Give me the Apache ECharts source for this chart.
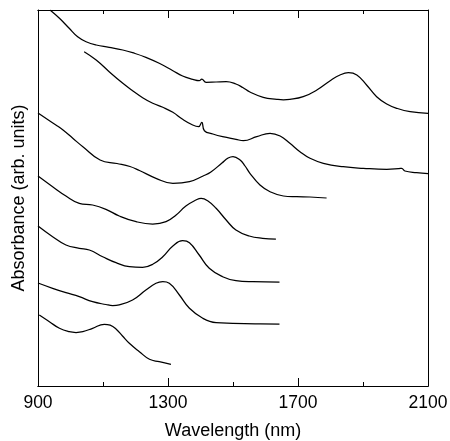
<!DOCTYPE html>
<html>
<head>
<meta charset="utf-8">
<script src="https://cdn.jsdelivr.net/npm/echarts@6/dist/echarts.min.js"></script>
<style>
html,body{margin:0;padding:0;background:#fff;}
#chart{width:450px;height:441px;}
</style>
</head>
<body>
<div id="chart"></div>
<script>
// ---- data (wavelength in nm, absorbance in arbitrary units, curves offset vertically) ----
var majorTicks = [900, 1300, 1700, 2100];
var minorTicks = [1100, 1500, 1900];

var wl1 = [937, 966, 996, 1022, 1048, 1079, 1119, 1161, 1191, 1232, 1273, 1315, 1345, 1376, 1396, 1404, 1417, 1448, 1479, 1509, 1530, 1552, 1593, 1635, 1655, 1675, 1716, 1758, 1799, 1829, 1855, 1881, 1911, 1942, 1973, 2004, 2045, 2100];
var ab1 = [3.76, 3.677, 3.577, 3.493, 3.443, 3.41, 3.387, 3.36, 3.333, 3.287, 3.227, 3.153, 3.10, 3.067, 3.053, 3.07, 3.037, 3.04, 3.043, 3.02, 2.985, 2.94, 2.887, 2.867, 2.862, 2.866, 2.893, 2.96, 3.053, 3.11, 3.133, 3.11, 3.01, 2.893, 2.82, 2.777, 2.743, 2.727];

var wl2 = [1042, 1079, 1119, 1161, 1191, 1222, 1253, 1284, 1315, 1345, 1376, 1394, 1404, 1412, 1438, 1468, 1509, 1532, 1573, 1614, 1645, 1675, 1706, 1737, 1778, 1839, 1901, 1973, 2009, 2019, 2029, 2065, 2100];
var ab2 = [3.343, 3.26, 3.143, 3.027, 2.953, 2.883, 2.827, 2.787, 2.737, 2.667, 2.61, 2.593, 2.637, 2.553, 2.52, 2.493, 2.467, 2.453, 2.493, 2.527, 2.50, 2.427, 2.343, 2.277, 2.227, 2.193, 2.177, 2.167, 2.173, 2.177, 2.15, 2.133, 2.123];

var wl3 = [900, 955, 977, 1007, 1039, 1091, 1143, 1183, 1212, 1263, 1315, 1366, 1408, 1432, 1466, 1485, 1500, 1522, 1537, 1552, 1583, 1614, 1655, 1696, 1737, 1788];
var ab3 = [2.73, 2.61, 2.56, 2.477, 2.39, 2.26, 2.225, 2.195, 2.155, 2.077, 2.027, 2.043, 2.10, 2.14, 2.23, 2.28, 2.295, 2.26, 2.20, 2.127, 2.01, 1.943, 1.90, 1.893, 1.89, 1.88];

var wl4 = [900, 945, 986, 1027, 1068, 1109, 1150, 1202, 1253, 1294, 1325, 1355, 1386, 1402, 1422, 1448, 1479, 1509, 1550, 1591, 1632];
var ab4 = [2.10, 1.993, 1.90, 1.827, 1.81, 1.767, 1.70, 1.643, 1.62, 1.643, 1.71, 1.80, 1.86, 1.877, 1.853, 1.777, 1.66, 1.56, 1.50, 1.477, 1.47];

var wl5 = [900, 945, 986, 1027, 1058, 1099, 1140, 1181, 1222, 1253, 1284, 1315, 1345, 1366, 1396, 1427, 1468, 1509, 1561, 1643];
var ab5 = [1.60, 1.493, 1.41, 1.377, 1.36, 1.293, 1.233, 1.193, 1.187, 1.217, 1.293, 1.40, 1.453, 1.433, 1.31, 1.177, 1.093, 1.053, 1.043, 1.04];

var wl6 = [900, 945, 986, 1027, 1068, 1109, 1130, 1150, 1191, 1232, 1263, 1284, 1304, 1335, 1366, 1407, 1448, 1499, 1568, 1643];
var ab6 = [1.03, 0.977, 0.933, 0.893, 0.843, 0.815, 0.805, 0.812, 0.86, 0.96, 1.027, 1.043, 1.027, 0.91, 0.777, 0.677, 0.633, 0.627, 0.622, 0.62];

var wl7 = [904, 935, 966, 996, 1017, 1038, 1068, 1104, 1122, 1140, 1160, 1181, 1212, 1243, 1273, 1309];
var ab7 = [0.71, 0.643, 0.577, 0.543, 0.535, 0.543, 0.577, 0.617, 0.608, 0.57, 0.50, 0.427, 0.343, 0.267, 0.243, 0.217];

var curves = [[wl1, ab1], [wl2, ab2], [wl3, ab3], [wl4, ab4], [wl5, ab5], [wl6, ab6], [wl7, ab7]];

// ---- chart ----
var font = '"Liberation Sans", Arial, sans-serif';
var chart = echarts.init(document.getElementById('chart'), null, {renderer: 'canvas'});

function xAx(pos, ticks, len, labels, name) {
  var a = {
    type: 'value', position: pos, min: 900, max: 2100,
    axisLine: {show: true, onZero: false, lineStyle: {color: '#000', width: 1}},
    axisTick: {show: true, inside: true, length: len, customValues: ticks, lineStyle: {color: '#000', width: 1}},
    axisLabel: labels ? {
      show: true, customValues: ticks, margin: 8, color: '#000', fontSize: 17.5, fontFamily: font,
      formatter: function (v) { return String(v); }
    } : {show: false},
    splitLine: {show: false}
  };
  if (name) {
    a.name = name; a.nameLocation = 'middle'; a.nameGap = 36;
    a.nameTextStyle = {color: '#000', fontSize: 18, fontFamily: font};
  }
  return a;
}

var series = curves.map(function (c) {
  return {
    type: 'line', xAxisIndex: 0, yAxisIndex: 0,
    data: c[0].map(function (w, i) { return [w, c[1][i]]; }),
    showSymbol: false, smooth: 0.45, clip: true,
    lineStyle: {color: '#000', width: 1.25},
    animation: false
  };
});

chart.setOption({
  animation: false,
  backgroundColor: '#fff',
  grid: {left: 38, right: 22, top: 10, bottom: 55, containLabel: false, outerBoundsMode: 'none'},
  xAxis: [
    xAx('bottom', majorTicks, 8, true, 'Wavelength (nm)'),
    xAx('bottom', minorTicks, 4, false),
    xAx('top', majorTicks, 8, false),
    xAx('top', minorTicks, 4, false)
  ],
  yAxis: [
    {
      type: 'value', position: 'left', min: 0, max: 3.76,
      axisLine: {show: true, lineStyle: {color: '#000', width: 1}},
      axisTick: {show: false}, axisLabel: {show: false}, splitLine: {show: false},
      name: 'Absorbance (arb. units)', nameLocation: 'middle', nameGap: 10,
      nameTextStyle: {color: '#000', fontSize: 18, fontFamily: font}
    },
    {
      type: 'value', position: 'right', min: 0, max: 3.76,
      axisLine: {show: true, lineStyle: {color: '#000', width: 1}},
      axisTick: {show: false}, axisLabel: {show: false}, splitLine: {show: false}
    }
  ],
  series: series
});
</script>
</body>
</html>
